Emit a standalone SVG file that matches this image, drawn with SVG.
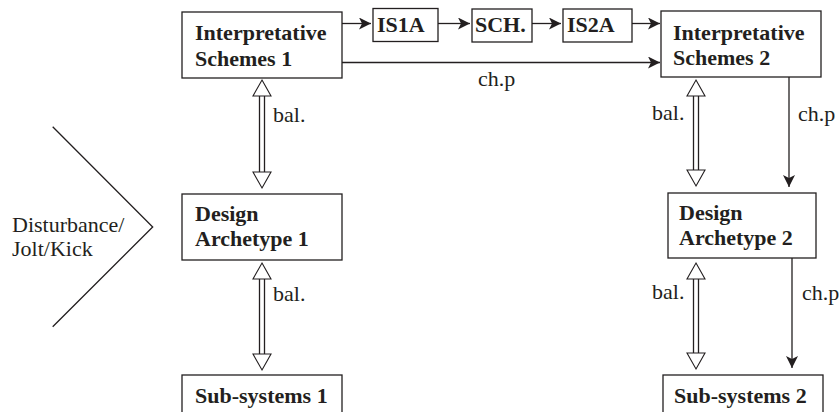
<svg xmlns="http://www.w3.org/2000/svg" width="840" height="412" viewBox="0 0 840 412">
<style>
.box{fill:#fff;stroke:#231f20;stroke-width:1.3}
.ln{fill:none;stroke:#231f20;stroke-width:1.3}
.ha{fill:#fff;stroke:#231f20;stroke-width:1.1}
</style>
<defs>
<marker id="ah" viewBox="0 0 12 12" refX="12" refY="6" markerWidth="12" markerHeight="12" markerUnits="userSpaceOnUse" orient="auto">
<path d="M0,0 L12,6 L0,12 L3,6 z" fill="#231f20"/>
</marker>
</defs>
<g font-family="Liberation Serif" font-size="22" fill="#231f20">
<g id="connectors">
<line class="ln" x1="342" y1="23.5" x2="371" y2="23.5" marker-end="url(#ah)"/>
<line class="ln" x1="438" y1="23.5" x2="470" y2="23.5" marker-end="url(#ah)"/>
<line class="ln" x1="532" y1="23.5" x2="561" y2="23.5" marker-end="url(#ah)"/>
<line class="ln" x1="632" y1="23.5" x2="660" y2="23.5" marker-end="url(#ah)"/>
<line class="ln" x1="342" y1="62.5" x2="660" y2="62.5" marker-end="url(#ah)"/>
<line class="ln" x1="789" y1="77" x2="789" y2="187" marker-end="url(#ah)"/>
<line class="ln" x1="792" y1="258" x2="792" y2="368" marker-end="url(#ah)"/>
<g id="bal1">
<line class="ln" x1="259.5" y1="96" x2="259.5" y2="172"/><line class="ln" x1="264.5" y1="96" x2="264.5" y2="172"/>
<polygon class="ha" points="262,80 271,96 253,96"/><polygon class="ha" points="262,188 271,172 253,172"/>
</g>
<g id="bal2">
<line class="ln" x1="259.5" y1="279" x2="259.5" y2="354"/><line class="ln" x1="264.5" y1="279" x2="264.5" y2="354"/>
<polygon class="ha" points="262,263 271,279 253,279"/><polygon class="ha" points="262,370 271,354 253,354"/>
</g>
<g id="bal3">
<line class="ln" x1="693.5" y1="96" x2="693.5" y2="170"/><line class="ln" x1="698.5" y1="96" x2="698.5" y2="170"/>
<polygon class="ha" points="696,80 705,96 687,96"/><polygon class="ha" points="696,186 705,170 687,170"/>
</g>
<g id="bal4">
<line class="ln" x1="693.5" y1="279" x2="693.5" y2="353"/><line class="ln" x1="698.5" y1="279" x2="698.5" y2="353"/>
<polygon class="ha" points="696,263 705,279 687,279"/><polygon class="ha" points="696,369 705,353 687,353"/>
</g>
<text x="478" y="86">ch.p</text>
<text x="798" y="121">ch.p</text>
<text x="802" y="300">ch.p</text>
<text x="273" y="122">bal.</text>
<text x="273" y="301">bal.</text>
<text x="652" y="120">bal.</text>
<text x="652" y="299">bal.</text>
</g>
<g id="disturbance">
<polyline class="ln" points="52.7,126.7 152.7,227 52.7,326.7"/>
<text x="12" y="232">Disturbance/</text>
<text x="12" y="256">Jolt/Kick</text>
</g>
<g font-weight="bold">
<g id="is1">
<rect class="box" x="182" y="12" width="160" height="66"/>
<text x="195" y="40">Interpretative</text>
<text x="195" y="66">Schemes 1</text>
</g>
<g id="is1a">
<rect class="box" x="373" y="8.5" width="65" height="33"/>
<text x="377" y="32">IS1A</text>
</g>
<g id="sch">
<rect class="box" x="472" y="9" width="60" height="33"/>
<text x="475" y="32">SCH.</text>
</g>
<g id="is2a">
<rect class="box" x="563" y="9" width="69" height="33"/>
<text x="567" y="32">IS2A</text>
</g>
<g id="is2">
<rect class="box" x="661" y="11" width="160" height="66"/>
<text x="673" y="40">Interpretative</text>
<text x="673" y="65">Schemes 2</text>
</g>
<g id="da1">
<rect class="box" x="182" y="194" width="160" height="66"/>
<text x="195" y="221">Design</text>
<text x="195" y="246">Archetype 1</text>
</g>
<g id="da2">
<rect class="box" x="668" y="193" width="148" height="65"/>
<text x="679" y="220">Design</text>
<text x="679" y="245">Archetype 2</text>
</g>
<g id="ss1">
<rect class="box" x="182" y="375" width="160" height="50"/>
<text x="195" y="403">Sub-systems 1</text>
</g>
<g id="ss2">
<rect class="box" x="663" y="375" width="160" height="50"/>
<text x="674" y="403">Sub-systems 2</text>
</g>
</g>
</g>
</svg>
